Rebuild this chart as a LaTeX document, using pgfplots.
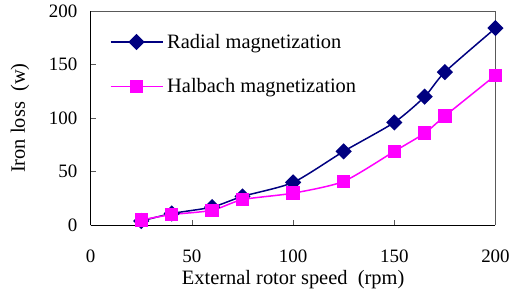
\documentclass[border=0pt]{standalone}
\usepackage{pgfplots}
\pgfplotsset{compat=1.18}
\usepackage{fontspec}
\setmainfont{Liberation Serif}
\definecolor{radial}{RGB}{0,0,128}
\definecolor{halbach}{RGB}{255,0,255}
\begin{document}
\begin{tikzpicture}
\begin{axis}[
  scale only axis,
  width=406bp, height=215bp,
  xmin=0, xmax=200, ymin=0, ymax=200,
  xtick={0,50,100,150,200}, ytick={0,50,100,150,200},
  axis x line*=bottom, axis y line*=left,
  axis line style={black, line width=0.8bp, -},
  tick align=inside, major tick length=5bp,
  tick style={gray!70!black, line width=0.8bp},
  /pgf/number format/assume math mode=true,
  tick label style={font=\fontsize{19bp}{22bp}\selectfont},
  xticklabel style={yshift=-21bp},
  yticklabel style={xshift=-10bp},
  xlabel={External rotor speed\ \ (rpm)},
  ylabel={Iron loss\ \ (w)},
  label style={font=\fontsize{20.5bp}{24bp}\selectfont},
  xlabel style={at={(axis description cs:0.5,0)}, anchor=center, yshift=-54bp},
  ylabel style={at={(axis description cs:0,0.5)}, anchor=center, yshift=71bp},
  legend style={draw=none, fill=none, at={(axis description cs:0,1)}, anchor=north west,
    xshift=19bp, yshift=-21bp, font=\fontsize{20.5bp}{24bp}\selectfont,
    row sep=25bp, inner sep=0pt, nodes={inner ysep=2bp, inner xsep=4bp}},
  legend cell align=left,
  legend image code/.code={\draw[#1, mark repeat=2, mark phase=2] plot coordinates {(0bp,0bp) (26bp,0bp) (52bp,0bp)};},
  clip=false,
]
\addplot[radial, line width=1.5bp, smooth, tension=0.4, mark=square*, mark size=5bp,
  mark options={rotate=45, solid, fill=radial}]
  coordinates {(25,4) (40,11) (60,17) (75,27) (100,40) (125,69) (150,96) (165,120) (175,143) (200,184)};
\addlegendentry{Radial magnetization}
\addplot[halbach, line width=1.5bp, smooth, tension=0.4, mark=square*, mark size=6bp,
  mark options={solid, fill=halbach}]
  coordinates {(25,5) (40,10) (60,14) (75,24) (100,30) (125,41) (150,69) (165,86) (175,102) (200,140)};
\addlegendentry{Halbach magnetization}
\draw[gray!70!black, line width=0.8bp] (rel axis cs:0,1) -- (rel axis cs:1,1) -- (rel axis cs:1,0);
\path[use as bounding box] ([xshift=-91bp,yshift=-71bp]rel axis cs:0,0) rectangle ([xshift=16bp,yshift=11bp]rel axis cs:1,1);
\end{axis}
\end{tikzpicture}
\end{document}
